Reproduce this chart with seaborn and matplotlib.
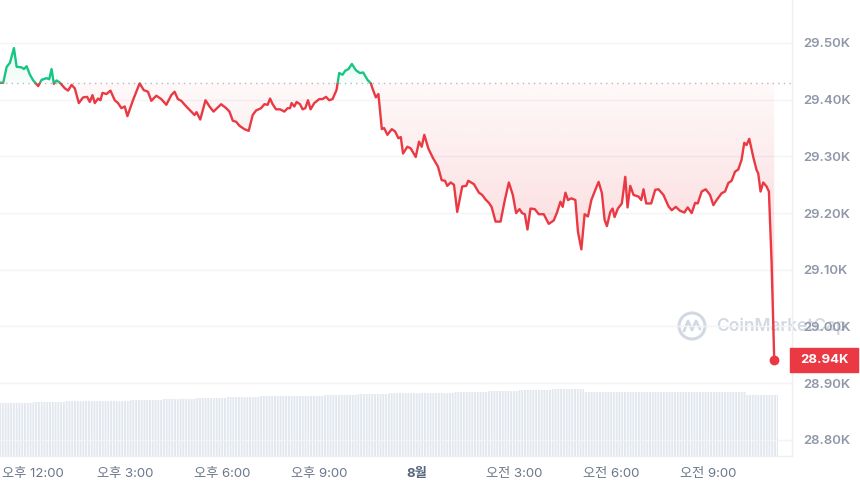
import numpy as np
import matplotlib
matplotlib.use("Agg")
import matplotlib.pyplot as plt
import matplotlib.transforms as mtransforms
from matplotlib.patches import Rectangle, Ellipse
from matplotlib.lines import Line2D
from matplotlib.colors import to_rgb
import seaborn as sns

# hours since 12:00 (afternoon of day 1) and BTC price in USD
hours = [
    -0.855, -0.754, -0.649, -0.548, -0.425, -0.342, -0.188, -0.117, -0.034, 0.068,
    0.169, 0.323, 0.428, 0.582, 0.662, 0.735, 0.806, 0.889, 0.991, 1.145,
    1.246, 1.351, 1.452, 1.575, 1.708, 1.831, 1.914, 1.997, 2.068, 2.169,
    2.243, 2.305, 2.428, 2.551, 2.683, 2.785, 2.889, 2.991, 3.074, 3.246,
    3.452, 3.575, 3.708, 3.812, 3.966, 4.120, 4.274, 4.428, 4.529, 4.631,
    4.735, 4.889, 5.043, 5.145, 5.206, 5.320, 5.483, 5.606, 5.729, 5.966,
    6.120, 6.222, 6.323, 6.428, 6.529, 6.683, 6.815, 6.938, 7.043, 7.197,
    7.298, 7.400, 7.474, 7.554, 7.658, 7.782, 7.914, 8.015, 8.089, 8.138,
    8.222, 8.292, 8.397, 8.477, 8.560, 8.643, 8.723, 8.837, 8.991, 9.092,
    9.197, 9.298, 9.400, 9.523, 9.606, 9.708, 9.791, 9.892, 9.997, 10.120,
    10.243, 10.345, 10.477, 10.582, 10.631, 10.735, 10.815, 10.920, 10.991, 11.092,
    11.228, 11.329, 11.431, 11.505, 11.575, 11.708, 11.812, 11.966, 12.068, 12.151,
    12.231, 12.354, 12.498, 12.652, 12.766, 12.868, 12.938, 13.043, 13.145, 13.246,
    13.400, 13.523, 13.585, 13.760, 13.914, 14.015, 14.120, 14.222, 14.305, 14.428,
    14.582, 14.714, 14.837, 14.960, 15.062, 15.166, 15.246, 15.329, 15.412, 15.505,
    15.637, 15.760, 15.914, 16.068, 16.222, 16.323, 16.428, 16.498, 16.582, 16.662,
    16.766, 16.889, 16.969, 17.074, 17.175, 17.277, 17.382, 17.505, 17.606, 17.708,
    17.791, 17.862, 17.966, 18.037, 18.098, 18.200, 18.323, 18.428, 18.498, 18.582,
    18.683, 18.837, 18.920, 18.991, 19.074, 19.228, 19.351, 19.452, 19.606, 19.760,
    19.862, 19.985, 20.120, 20.252, 20.354, 20.477, 20.582, 20.662, 20.785, 20.908,
    21.043, 21.145, 21.246, 21.400, 21.505, 21.606, 21.708, 21.812, 21.914, 22.015,
    22.098, 22.169, 22.252, 22.375, 22.477, 22.529, 22.600, 22.683, 22.785, 22.858,
    22.938, 23.022,
]
price = [
    29430, 29430, 29458, 29465, 29491, 29458, 29457, 29454, 29459, 29444,
    29434, 29424, 29435, 29438, 29436, 29454, 29428, 29434, 29430, 29420,
    29416, 29426, 29420, 29394, 29404, 29405, 29396, 29408, 29394, 29402,
    29399, 29412, 29410, 29416, 29399, 29394, 29385, 29388, 29371, 29399,
    29429, 29417, 29414, 29398, 29407, 29401, 29391, 29408, 29414, 29401,
    29398, 29388, 29379, 29373, 29378, 29365, 29399, 29388, 29379, 29392,
    29385, 29379, 29363, 29361, 29354, 29348, 29345, 29373, 29381, 29385,
    29392, 29391, 29402, 29392, 29383, 29383, 29379, 29385, 29385, 29394,
    29388, 29396, 29392, 29383, 29385, 29399, 29383, 29394, 29401, 29401,
    29405, 29399, 29401, 29417, 29447, 29444, 29451, 29454, 29463, 29452,
    29447, 29448, 29435, 29429, 29420, 29404, 29410, 29348, 29350, 29338,
    29348, 29344, 29332, 29334, 29305, 29317, 29314, 29299, 29326, 29317,
    29338, 29314, 29297, 29282, 29258, 29257, 29248, 29254, 29250, 29202,
    29247, 29248, 29257, 29251, 29236, 29232, 29224, 29218, 29211, 29185,
    29185, 29223, 29254, 29232, 29200, 29207, 29200, 29198, 29171, 29208,
    29207, 29198, 29198, 29181, 29187, 29201, 29220, 29211, 29236, 29223,
    29226, 29223, 29167, 29136, 29198, 29194, 29223, 29241, 29255, 29235,
    29188, 29177, 29202, 29208, 29193, 29208, 29217, 29264, 29210, 29248,
    29232, 29229, 29223, 29242, 29217, 29217, 29241, 29242, 29232, 29212,
    29205, 29211, 29204, 29201, 29210, 29200, 29218, 29217, 29238, 29242,
    29232, 29214, 29223, 29235, 29238, 29253, 29257, 29273, 29277, 29294,
    29324, 29320, 29331, 29299, 29276, 29270, 29238, 29254, 29247, 29238,
    29117, 28941,
]

# 24h volume (billion USD), one bar per hour
vol_hours = [-0.35, 0.65, 1.65, 2.65, 3.65, 4.65, 5.65, 6.65, 7.65, 8.65, 9.65, 10.65,
             11.65, 12.65, 13.65, 14.65, 15.65, 16.65, 17.65, 18.65, 19.65, 20.65, 21.65, 22.65]
volume_b = [12.12, 12.35, 12.58, 12.76, 12.99, 13.16, 13.34, 13.62, 13.73, 13.89, 14.01, 14.19,
            14.47, 14.54, 14.77, 14.96, 15.19, 15.35, 14.77, 14.77, 14.77, 14.77, 14.77, 14.08]

tick_hours = [0, 3, 6, 9, 12, 15, 18, 21]
tick_labels = ['오후 12:00', '오후 3:00', '오후 6:00', '오후 9:00', '8월', '오전 3:00', '오전 6:00', '오전 9:00']
y_ticks = [28800, 28900, 29000, 29100, 29200, 29300, 29400, 29500]
open_price = 29430

RED = '#ea3943'
GREEN = '#16c784'

sns.set_theme(style='white')
plt.rcParams['font.family'] = ['Inter', 'Noto Sans CJK KR', 'DejaVu Sans']
plt.rcParams['hatch.linewidth'] = 0.6
plt.rcParams['hatch.color'] = 'white'

fig = plt.figure(figsize=(8.6, 4.87), dpi=100)
fig.patch.set_facecolor('white')
rect = [0, 31 / 487, 792 / 860, 456 / 487]
ax = fig.add_axes(rect)
axv = fig.add_axes(rect, sharex=ax)
ax.set_zorder(1)
axv.set_zorder(0)
ax.set_facecolor('none')
axv.set_facecolor('none')

xmin, xmax = -0.855, 23.57
ymin, ymax = 28771.6, 29575.8

# volume bars
axv.bar(vol_hours, volume_b, width=1.0, color='#e3e8ef', edgecolor='white',
        linewidth=0, hatch='||||||')
axv.set_ylim(0, 105)
axv.axis('off')

h = np.array(hours)
p = np.array(price)

# gradient fills between price and the opening price
red_poly = ax.fill_between(h, np.minimum(p, open_price), open_price, facecolor='none', edgecolor='none')
grn_poly = ax.fill_between(h, open_price, np.maximum(p, open_price), facecolor='none', edgecolor='none')

n = 256
g = np.zeros((n, 1, 4))
g[..., :3] = to_rgb(RED)
g[:, 0, 3] = np.linspace(0.03, 0.36, n)
im = ax.imshow(g, extent=[h[0], h[-1], ymin, open_price], aspect='auto', origin='upper',
               interpolation='bilinear', zorder=1)
im.set_clip_path(red_poly.get_paths()[0], transform=ax.transData)

g2 = np.zeros((n, 1, 4))
g2[..., :3] = to_rgb(GREEN)
g2[:, 0, 3] = np.linspace(0.20, 0.03, n)
im2 = ax.imshow(g2, extent=[h[0], h[-1], open_price, ymax], aspect='auto', origin='upper',
                interpolation='bilinear', zorder=1)
im2.set_clip_path(grn_poly.get_paths()[0], transform=ax.transData)

# price line: red below the open, green above
sns.lineplot(x=hours, y=price, ax=ax, color=RED, linewidth=1.7, sort=False, zorder=3)
red_line = ax.lines[-1]
sns.lineplot(x=hours, y=price, ax=ax, color=GREEN, linewidth=1.7, sort=False, zorder=3)
grn_line = ax.lines[-1]
red_line.set_clip_path(Rectangle((xmin, ymin), xmax - xmin, open_price - ymin, transform=ax.transData))
grn_line.set_clip_path(Rectangle((xmin, open_price), xmax - xmin, ymax - open_price, transform=ax.transData))

ax.axhline(open_price, color='#b3bac7', linewidth=1, linestyle=(0, (1, 3)), zorder=2)
ax.scatter([h[-1]], [p[-1]], s=50, color=RED, zorder=5, clip_on=False, linewidths=0)

ax.set_xlim(xmin, xmax)
ax.set_ylim(ymin, ymax)
ax.set_xlabel('')
ax.set_ylabel('')

# axes styling
for side in ['top', 'left']:
    ax.spines[side].set_visible(False)
for side in ['right', 'bottom']:
    ax.spines[side].set_color('#eceff3')
    ax.spines[side].set_linewidth(1)

ax.set_yticks(y_ticks, [f'{v / 1000:.2f}K' for v in y_ticks])
ax.yaxis.tick_right()
ax.grid(axis='y', color='#f2f4f7', linewidth=1)
ax.grid(axis='x', visible=False)
ax.tick_params(axis='y', length=0, pad=8, labelsize=9.5, labelcolor='#8f97a8')
for lab in ax.get_yticklabels():
    lab.set_fontweight('semibold')

ax.set_xticks(tick_hours, tick_labels)
ax.tick_params(axis='x', length=0, pad=9, labelsize=9.5, labelcolor='#6b778c')
xlabs = ax.get_xticklabels()
xlabs[0].set_horizontalalignment('left')
xlabs[0].set_transform(xlabs[0].get_transform() + mtransforms.ScaledTranslation(-0.26, 0, fig.dpi_scale_trans))
xlabs[4].set_fontweight('bold')
xlabs[4].set_color('#58667e')

# last price tag
blend = mtransforms.blended_transform_factory(ax.transAxes, ax.transData)
ax.add_patch(Rectangle((0.9975, p[-1] - 21), 0.086, 42, transform=blend, color=RED,
                       clip_on=False, zorder=6))
ax.text(1.0405, p[-1], f'{p[-1] / 1000:.2f}K', transform=blend, ha='center', va='center',
        color='white', fontsize=9.5, fontweight='bold', zorder=7)

# watermark
wm = '#d3d9e2'
fig.text(716 / 860, 1 - 326 / 487, 'CoinMarketCap', fontsize=12.5, color=wm,
         fontweight='semibold', ha='left', va='center', zorder=-1)
fig.add_artist(Ellipse((692 / 860, 1 - 326 / 487), 26 / 860, 26 / 487, transform=fig.transFigure,
                       fill=False, edgecolor=wm, linewidth=2.2, zorder=-1))
mx = [684, 688, 692, 696, 700]
my = [331, 321, 330, 321, 329]
fig.add_artist(Line2D([x / 860 for x in mx], [1 - y / 487 for y in my], transform=fig.transFigure,
                      color=wm, linewidth=2, zorder=-1))

fig.savefig('out.png', dpi=100, facecolor='white')
